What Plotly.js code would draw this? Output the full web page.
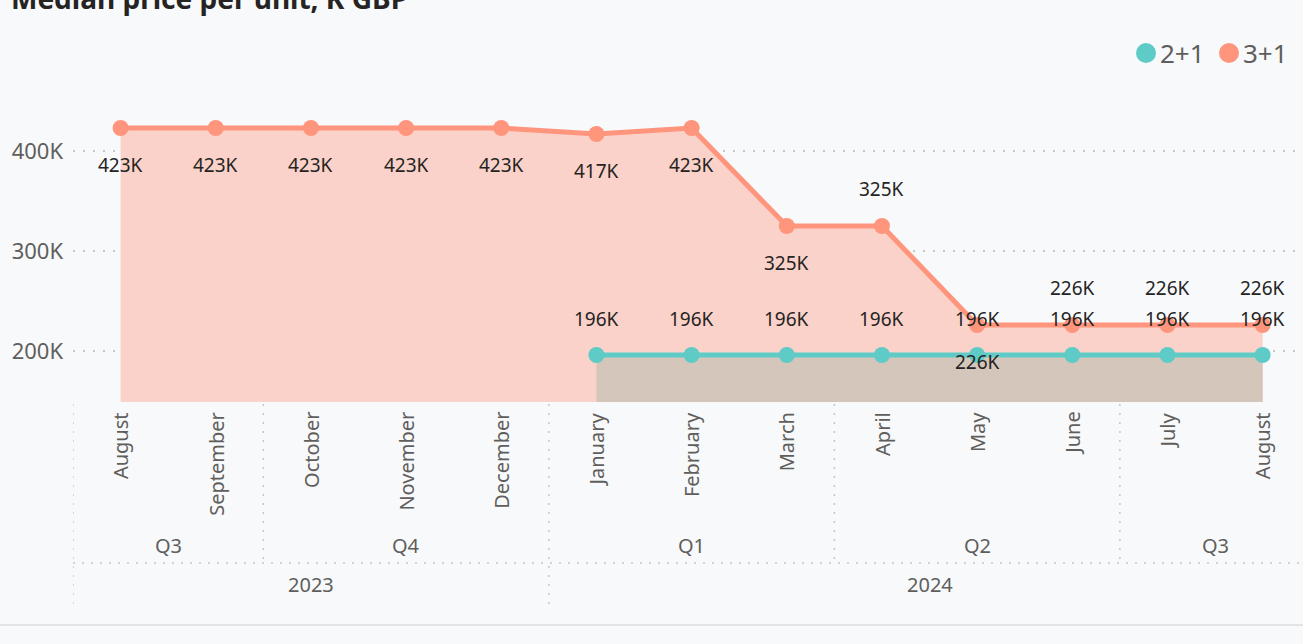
<!DOCTYPE html>
<html>
<head>
<meta charset="utf-8">
<script src="https://cdn.plot.ly/plotly-3.0.1.min.js"></script>
<style>html,body{margin:0;padding:0;background:#F8F9FB;}#chart{width:1303px;height:644px;}</style>
</head>
<body>
<div id="chart"></div>
<script>
// ---- data ----
const months = ['August','September','October','November','December','January','February','March','April','May','June','July','August'];
const monthQuarter = ['Q3','Q3','Q4','Q4','Q4','Q1','Q1','Q1','Q2','Q2','Q2','Q3','Q3'];
const monthYear = ['2023','2023','2023','2023','2023','2024','2024','2024','2024','2024','2024','2024','2024'];
const series21 = [null,null,null,null,null,196,196,196,196,196,196,196,196];
const series31 = [423,423,423,423,423,417,423,325,325,226,226,226,226];
const seriesNames = ['2+1','3+1'];
const yTicks = [200,300,400];
const titleText = 'Median price per unit, K GBP';

// ---- style / layout ----
const FONT = 'Segoe UI, Noto Sans, Open Sans, sans-serif';
const teal = '#5ECBC6', salmon = '#FE957C';
const labelSide31 = [-1,-1,-1,-1,-1,-1,-1,-1,1,-1,1,1,1];
const W = 1303, H = 644, mL = 73, mT = 95, mB = 242;
const plotH = H - mT - mB, plotW = W - mL;
const py = p => (H - mB - p) / plotH; // pixel y -> paper y
const px = p => (p - mL) / plotW;     // pixel x -> paper x
const xIdx = months.map((_, i) => i);

const traces = [
  {x: xIdx, y: series31, name: seriesNames[1], mode: 'lines+markers', fill: 'tozeroy',
   fillcolor: '#FAD2C9', line: {color: salmon, width: 5}, marker: {color: salmon, size: 16},
   showlegend: false, hoverinfo: 'skip'},
  {x: xIdx, y: series21, name: seriesNames[0], mode: 'lines+markers', fill: 'tozeroy',
   fillcolor: '#D5C6BB', line: {color: teal, width: 5}, marker: {color: teal, size: 16},
   showlegend: false, hoverinfo: 'skip'}
];
const seriesColors = [teal, salmon];

const annotations = [];
const shapes = [];
const dark = '#252423', grey = '#605E5C', lineGrey = '#C8C6C4';
series31.forEach((v, i) => {
  if (v == null) return;
  annotations.push({x: i, y: v, xref: 'x', yref: 'y', text: v + 'K', showarrow: false,
    yshift: 37 * labelSide31[i], font: {family: FONT, size: 19, color: dark}});
});
series21.forEach((v, i) => {
  if (v == null) return;
  annotations.push({x: i, y: v, xref: 'x', yref: 'y', text: v + 'K', showarrow: false,
    yshift: 36, font: {family: FONT, size: 19, color: dark}});
});
months.forEach((m, i) => {
  annotations.push({x: i, y: py(410), xref: 'x', yref: 'paper', text: m, showarrow: false,
    textangle: -90, yanchor: 'top', xanchor: 'center', font: {family: FONT, size: 20, color: grey}});
});
function groups(arr, keyArr) {
  const out = [];
  arr.forEach((v, i) => {
    const key = keyArr ? keyArr[i] + '|' + v : v;
    if (out.length && out[out.length - 1].key === key) out[out.length - 1].end = i;
    else out.push({key: key, label: v, start: i, end: i});
  });
  return out;
}
const qGroups = groups(monthQuarter, monthYear);
const yGroups = groups(monthYear);
qGroups.forEach(g => annotations.push({x: (g.start + g.end) / 2, y: py(545), xref: 'x', yref: 'paper',
  xanchor: 'center', yanchor: 'middle',
  text: g.label, showarrow: false, font: {family: FONT, size: 20, color: grey}}));
yGroups.forEach(g => annotations.push({x: (g.start + g.end) / 2, y: py(584), xref: 'x', yref: 'paper',
  xanchor: 'center', yanchor: 'middle',
  text: g.label, showarrow: false, font: {family: FONT, size: 20, color: grey}}));
annotations.push({x: px(9), xref: 'paper', y: py(-2), yref: 'paper',
  xanchor: 'left', yanchor: 'middle', text: '<b>' + titleText + '</b>', showarrow: false,
  font: {family: FONT, size: 28, color: dark}});

// legend (circle + label)
const legendCircleX = [1146, 1229];
seriesNames.forEach((n, k) => {
  shapes.push({type: 'circle', xref: 'paper', yref: 'paper', xsizemode: 'pixel', ysizemode: 'pixel',
    xanchor: px(legendCircleX[k]), yanchor: py(53), x0: -10, x1: 10, y0: -10, y1: 10,
    fillcolor: seriesColors[k], line: {width: 0}});
  annotations.push({x: px(legendCircleX[k] + 12), y: py(53), xref: 'paper', yref: 'paper',
    xanchor: 'left', yanchor: 'middle', text: n, showarrow: false,
    font: {family: FONT, size: 26, color: grey}});
});

const dotLine = {color: lineGrey, width: 1.5, dash: '2px,7px'};
qGroups.forEach((g, k) => {
  const isYear = k === 0 || monthYear[g.start] !== monthYear[g.start - 1];
  shapes.push({type: 'line', xref: 'x', yref: 'paper', x0: g.start - 0.5, x1: g.start - 0.5,
    y0: py(404), y1: isYear ? py(606) : py(563), line: dotLine});
});
shapes.push({type: 'line', xref: 'paper', yref: 'paper', x0: 0, x1: 1, y0: py(563), y1: py(563), line: dotLine});
shapes.push({type: 'line', xref: 'paper', yref: 'paper', x0: px(0), x1: 1, y0: py(625), y1: py(625),
  line: {color: '#E3E3E3', width: 2}});

const layout = {
  width: W, height: H,
  margin: {l: mL, r: 0, t: mT, b: mB, pad: 0},
  paper_bgcolor: '#F8F9FB', plot_bgcolor: '#F8F9FB',
  font: {family: FONT, color: grey},
  showlegend: false,
  xaxis: {range: [-0.5, plotW / 95.17 - 0.5], showticklabels: false, showgrid: false,
    zeroline: false, showline: false, fixedrange: true},
  yaxis: {range: [149, 149 + plotH], tickvals: yTicks, ticktext: yTicks.map(v => v + 'K'),
    showgrid: true, gridcolor: lineGrey, griddash: '2px,8px', gridwidth: 1.5, zeroline: false,
    showline: false, ticklabelstandoff: 9, tickfont: {family: FONT, size: 22, color: grey}, fixedrange: true},
  annotations: annotations,
  shapes: shapes
};
Plotly.newPlot('chart', traces, layout, {displayModeBar: false, staticPlot: true});
</script>
</body>
</html>
